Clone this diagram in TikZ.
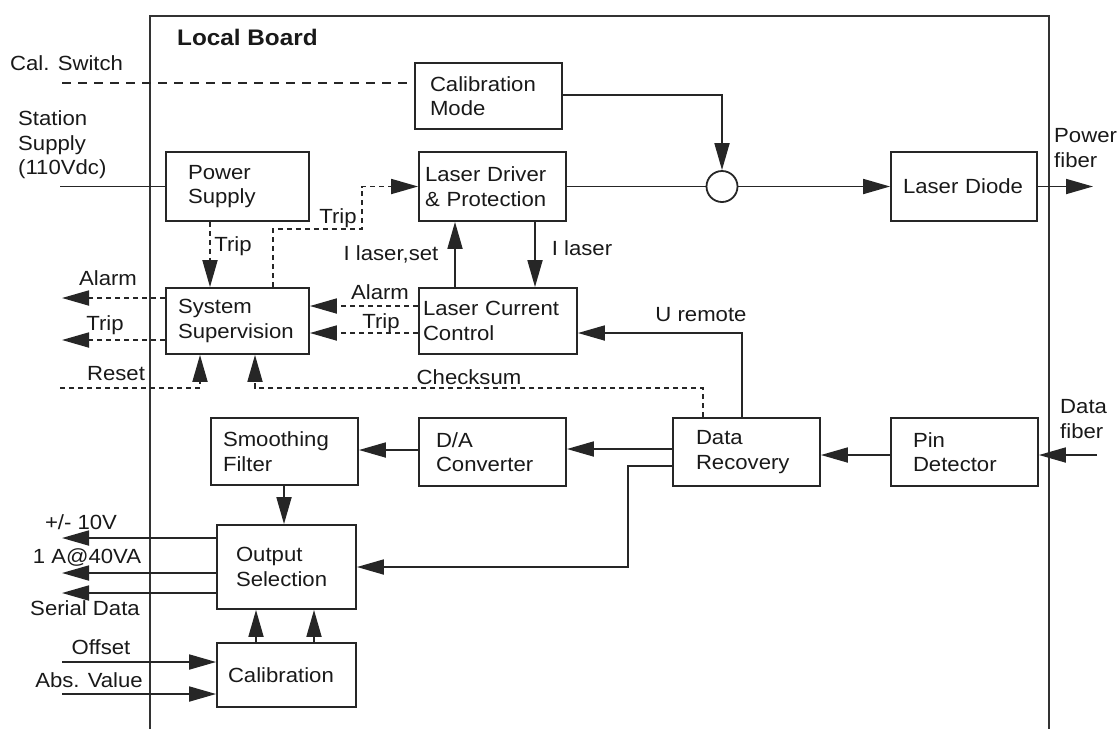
\documentclass[tikz,border=0pt]{standalone}
\usepackage{fontspec}
\setmainfont{Liberation Sans}[FakeStretch=1.08]
\usetikzlibrary{arrows.meta}
\begin{document}
\begin{tikzpicture}[x=1pt,y=-1pt,
  ink/.style={line width=1.8pt, draw=black!85},
  every node/.style={font=\fontsize{20.5}{24.5}\selectfont, text=black!90},
  blk/.style n args={4}{draw=black!85, line width=1.8pt, rectangle,
    minimum width=#1, minimum height=#2, inner xsep=#3, inner ysep=0pt,
    text width=#4, align=left},
  tip/.style={-{Triangle[length=27pt,width=15pt]}},
  longdash/.style={dash pattern=on 9pt off 7pt},
  shortdash/.style={dash pattern=on 5pt off 4pt},
  lbl/.style={inner sep=0pt}
]
\useasboundingbox (0,0) rectangle (1118,729);

% board outline (open at the bottom)
\draw[line width=1.8pt, draw=black!80] (150,729) -- (150,16) -- (1049,16) -- (1049,729);
\node[lbl, anchor=west, font=\fontsize{22.5}{26}\selectfont\bfseries] (title) at (177,37) {Local Board};

% function blocks
\node[blk={147pt}{66pt}{15pt}{117pt}] (calmode) at (488.5,96) {Calibration\\Mode};
\node[blk={147pt}{69pt}{6pt}{135pt}] (driver) at (492.5,186.5) {Laser Driver\\\& Protection};
\node[blk={146pt}{69pt}{12pt}{122pt}] (diode) at (964,186.5) {Laser Diode};
\node[blk={143pt}{69pt}{22pt}{99pt}] (power) at (237.5,186.5) {Power\\Supply};
\node[blk={143pt}{66pt}{12pt}{119pt}] (super) at (237.5,321) {System\\Supervision};
\node[blk={158pt}{66pt}{4pt}{150pt}] (lcc) at (498,321) {Laser Current\\Control};
\node[blk={147pt}{68pt}{23pt}{101pt}] (datarec) at (746.5,452) {Data\\Recovery};
\node[blk={147pt}{68pt}{22pt}{103pt}] (pin) at (964.5,452) {Pin\\Detector};
\node[blk={147pt}{68pt}{17pt}{113pt}] (da) at (492.5,452) {D/A\\Converter};
\node[blk={147pt}{67pt}{12pt}{123pt}] (smooth) at (284.5,451.5) {Smoothing\\Filter};
\node[blk={139pt}{84pt}{19pt}{101pt}] (outsel) at (286.5,567) {Output\\Selection};
\node[blk={139pt}{64pt}{11pt}{117pt}] (calib) at (286.5,675) {Calibration};
\node[draw=black!85, line width=1.8pt, circle, minimum size=31pt, inner sep=0pt] (sum) at (722,186.5) {};

% free ends of the external signals
\coordinate (calsw) at (62,83);
\coordinate (station) at (60,186.5);
\coordinate (alarmout) at (62,298);
\coordinate (tripout) at (62,340);
\coordinate (resetin) at (60,388);
\coordinate (o10v) at (62,538);
\coordinate (o1a) at (62,573);
\coordinate (oser) at (62,593);
\coordinate (offin) at (62,662);
\coordinate (absin) at (62,694);
\coordinate (pfiber) at (1093,186.5);
\coordinate (dfiber) at (1097,455);

% connectors
\draw[ink,longdash] (calsw) -- (calsw -| calmode.west);
\draw[ink] (station) -- (power.west);
\draw[ink,shortdash,tip] (power.south -| 210,0) -- (super.north -| 210,0);
\draw[ink,shortdash,tip] (super.north -| 273,0) -- (273,229) -- (362,229) |- (driver.west);
\draw[ink,tip] (lcc.north -| 455,0) -- (driver.south -| 455,0);
\draw[ink,tip] (driver.south -| 535,0) -- (lcc.north -| 535,0);
\draw[ink,shortdash,tip] (lcc.west |- 0,306) -- (super.east |- 0,306);
\draw[ink,shortdash,tip] (lcc.west |- 0,333) -- (super.east |- 0,333);
\draw[ink,shortdash,tip] (super.west |- alarmout) -- (alarmout);
\draw[ink,shortdash,tip] (super.west |- tripout) -- (tripout);
\draw[ink,shortdash,tip] (resetin) -| (super.south -| 200,0);
\draw[ink,shortdash,tip] (datarec.north -| 703,0) |- (255,388) -- (super.south -| 255,0);
\draw[ink,tip] (datarec.north -| 742,0) |- (lcc.east |- 0,333);
\draw[ink,tip] (datarec.west |- 0,449) -- (da.east |- 0,449);
\draw[ink,tip] (da.west |- 0,450) -- (smooth.east |- 0,450);
\draw[ink,tip] (datarec.west |- 0,466) -| (628,567) -- (outsel.east |- 0,567);
\draw[ink,tip] (smooth.south -| 284,0) -- (outsel.north -| 284,0);
\draw[ink,tip] (calib.north -| 256,0) -- (outsel.south -| 256,0);
\draw[ink,tip] (calib.north -| 314,0) -- (outsel.south -| 314,0);
\draw[ink,tip] (outsel.west |- o10v) -- (o10v);
\draw[ink,tip] (outsel.west |- o1a) -- (o1a);
\draw[ink,tip] (outsel.west |- oser) -- (oser);
\draw[ink,tip] (offin) -- (offin -| calib.west);
\draw[ink,tip] (absin) -- (absin -| calib.west);
\draw[ink,tip] (pin.west |- dfiber) -- (datarec.east |- dfiber);
\draw[ink,tip] (dfiber) -- (dfiber -| pin.east);
\draw[ink,tip] (calmode.east |- 0,95) -| (sum.north);
\draw[ink] (driver.east) -- (sum.west);
\draw[ink,tip] (sum.east) -- (diode.west);
\draw[ink,tip] (diode.east) -- (pfiber);

% signal names
\node[lbl, anchor=west] (lcal) at (10,63) {Cal. Switch};
\node[lbl, anchor=west, align=left] (lstation) at (18,145) {Station\\Supply\\(110Vdc)};
\node[lbl, anchor=west, align=left] (lpfiber) at (1054,148) {Power\\fiber};
\node[lbl, anchor=west, align=left] (ldfiber) at (1060,419) {Data\\fiber};
\node[lbl] (lalarmout) at (108,278) {Alarm};
\node[lbl] (ltripout) at (105,325) {Trip};
\node[lbl] (lreset) at (116,374) {Reset};
\node[lbl] (l10v) at (81,522) {+/- 10V};
\node[lbl] (l1a) at (87,557) {1 A@40VA};
\node[lbl] (lser) at (85,608) {Serial Data};
\node[lbl] (loff) at (101,647) {Offset};
\node[lbl] (labs) at (89,680) {Abs. Value};
\node[lbl] (ltrip1) at (233,246) {Trip};
\node[lbl] (ltrip2) at (338,218) {Trip};
\node[lbl] (lset) at (391,254) {I laser,set};
\node[lbl] (llaser) at (582,248) {I laser};
\node[lbl] (lalarm) at (380,292) {Alarm};
\node[lbl] (ltrip3) at (381,323) {Trip};
\node[lbl] (lurem) at (701,315) {U remote};
\node[lbl] (lcheck) at (469,377) {Checksum};
\end{tikzpicture}
\end{document}
